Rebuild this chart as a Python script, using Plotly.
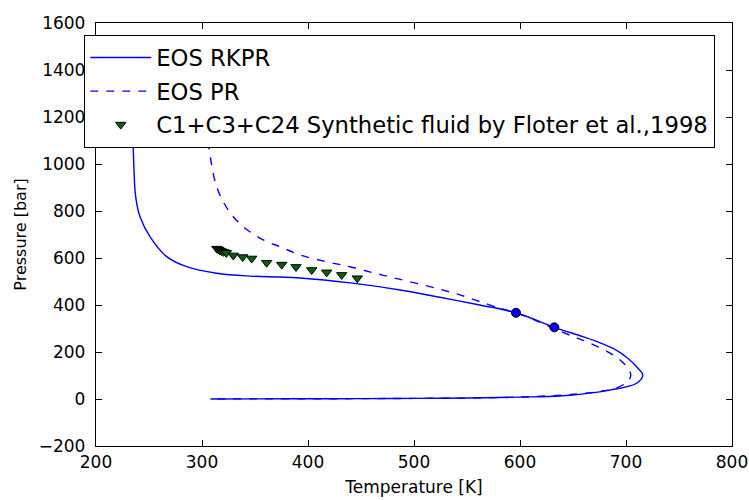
import plotly.graph_objects as go

# EOS RKPR phase envelope (T [K], P [bar])
rkpr_T = [234.0, 235.2, 236.8, 238.4, 241.5, 250.9, 266.7, 285.6, 313.9, 345.3, 373.6, 392.5,
          440.0, 487.0, 524.5, 562.0, 596.2, 632.4, 660.0, 676.0, 690.0, 702.0, 710.0, 715.8,
          710.0, 685.0, 637.7, 600.0, 550.0, 500.0, 450.0, 400.0, 350.0, 308.0]
rkpr_P = [1300, 1060, 889, 832, 776, 691, 606, 563, 535, 523, 519, 515,
          494, 464, 433, 400, 367, 305, 264, 238, 210, 172, 137, 102,
          67, 38, 13, 8, 4, 2.5, 1.5, 1.0, 0.6, 0.3]

# EOS PR phase envelope
pr_T = [302.0, 306.9, 313.9, 324.8, 339.0, 357.8, 373.6, 392.5, 417.6, 439.6, 461.6,
        480.5, 502.5, 524.5, 543.4, 562.3, 584.2, 596.0, 615.0, 632.0, 650.0, 666.0,
        685.0, 696.0, 702.0, 704.5, 703.0, 698.0, 690.0, 675.0, 650.0, 620.0, 590.0,
        550.0, 500.0, 450.0, 400.0, 350.0, 308.0]
pr_P = [1300, 1060, 903, 804, 733, 677, 648, 613, 584, 563, 537,
        516, 492, 467, 443, 414, 382, 367, 334, 300, 266, 238,
        195, 160, 130, 105, 82, 62, 46, 32, 20, 12, 7,
        4, 2.5, 1.5, 1.0, 0.6, 0.3]

# Experimental data: C1+C3+C24 synthetic fluid (Floter et al., 1998)
exp_T = [314.0, 315.5, 317.0, 318.5, 320.5, 323.0, 329.5, 338.4, 346.9, 361.0, 375.2,
         388.7, 403.5, 417.6, 431.8, 446.5]
exp_P = [640, 636, 632, 629, 626, 622, 611, 604, 598, 580, 572,
         562, 549, 539, 528, 514]

# Highlighted points on the RKPR envelope
pts_T = [596.2, 632.4]
pts_P = [367, 305]

x_ticks = [200, 300, 400, 500, 600, 700, 800]
y_ticks = [-200, 0, 200, 400, 600, 800, 1000, 1200, 1400, 1600]

FONT = "DejaVu Sans"

fig = go.Figure()
fig.add_trace(go.Scatter(x=rkpr_T, y=rkpr_P, mode="lines", name="EOS RKPR",
                         line=dict(color="#0000ff", width=1.4, shape="spline", smoothing=1.0),
                         legendgroup="a"))
fig.add_trace(go.Scatter(x=pr_T, y=pr_P, mode="lines", name="EOS PR",
                         line=dict(color="#0000ff", width=1.4, dash="8px,8px",
                                   shape="spline", smoothing=1.0),
                         legendgroup="b"))
fig.add_trace(go.Scatter(x=exp_T, y=exp_P, mode="markers",
                         name="C1+C3+C24 Synthetic fluid by Floter et al.,1998",
                         marker=dict(symbol="triangle-down", size=9, color="#006400",
                                     line=dict(color="black", width=1)), legendgroup="c"))
fig.add_trace(go.Scatter(x=pts_T, y=pts_P, mode="markers", showlegend=False,
                         marker=dict(symbol="circle", size=9, color="#0000ff",
                                     line=dict(color="black", width=1))))

axis_common = dict(showline=True, linecolor="black", linewidth=1.3, mirror="ticks",
                   ticks="inside", ticklen=6, tickwidth=1, tickcolor="black",
                   showgrid=False, zeroline=False,
                   tickfont=dict(family=FONT, size=17, color="black"))

fig.update_xaxes(range=[200, 800], tickvals=x_ticks, ticktext=[str(v) for v in x_ticks],
                 title=dict(text="Temperature [K]", font=dict(family=FONT, size=17, color="black"),
                            standoff=10),
                 **axis_common)
fig.update_yaxes(range=[-200, 1600], tickvals=y_ticks,
                 ticktext=[("\u2212" + str(-v)) if v < 0 else str(v) for v in y_ticks],
                 title=dict(text="Pressure [bar]", font=dict(family=FONT, size=16, color="black"),
                            standoff=8),
                 ticklabelstandoff=6,
                 **axis_common)

fig.update_layout(
    width=749, height=500,
    margin=dict(l=96, r=17, t=23, b=54, autoexpand=False),
    paper_bgcolor="white", plot_bgcolor="white",
    font=dict(family=FONT, color="black"),
    legend=dict(x=-0.0189, y=0.9716, xanchor="left", yanchor="top",
                bgcolor="white", bordercolor="black", borderwidth=1.3,
                font=dict(family=FONT, size=22.7, color="black"),
                traceorder="grouped", tracegroupgap=1, itemwidth=61),
)

fig.write_html("out.html")
